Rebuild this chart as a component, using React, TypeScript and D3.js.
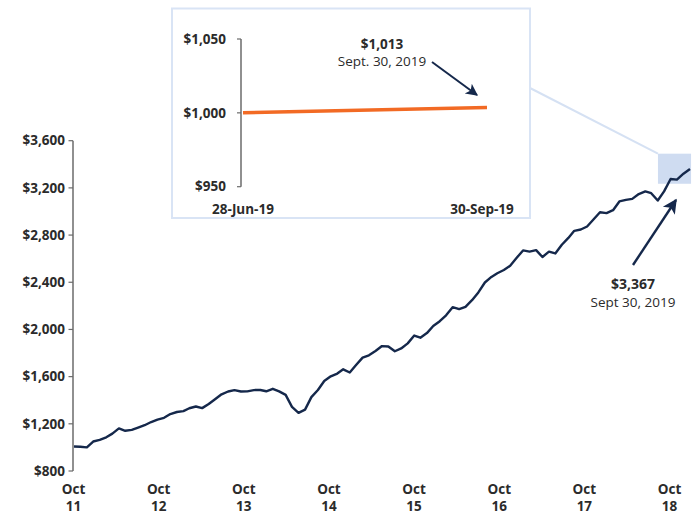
import React from "react";
import * as d3 from "d3";

// growth of $1,000, month ends Sep 2011 .. Sep 2019
const startMonth = new Date(2011, 8, 30);
const growthValues = [
  1008, 1006, 1000, 1050, 1064, 1086, 1117, 1161, 1141, 1149, 1168, 1188,
  1215, 1236, 1251, 1283, 1300, 1308, 1332, 1347, 1333, 1368, 1408, 1450,
  1474, 1486, 1474, 1475, 1486, 1487, 1476, 1497, 1475, 1445, 1344, 1293,
  1320, 1426, 1487, 1563, 1603, 1626, 1662, 1635, 1698, 1761, 1781, 1817,
  1859, 1856, 1815, 1839, 1882, 1948, 1930, 1969, 2029, 2070, 2120, 2189,
  2172, 2192, 2248, 2314, 2398, 2445, 2476, 2504, 2540, 2607, 2670, 2660,
  2672, 2614, 2660, 2644, 2718, 2776, 2836, 2847, 2873, 2934, 2993, 2986,
  3011, 3085, 3098, 3107, 3148, 3170, 3155, 3093, 3170, 3275, 3270, 3320,
  3360,
];
const yTicks = [800, 1200, 1600, 2000, 2400, 2800, 3200, 3600];
const xTickLabels = ["11", "12", "13", "14", "15", "16", "17", "18"];

// the zoomed quarter
const insetDates = [new Date(2019, 5, 28), new Date(2019, 8, 30)];
const insetValues = [1000, 1003.7];
const insetTicks = [950, 1000, 1050];
const insetDateLabels = ["28-Jun-19", "30-Sep-19"];

const highlightDates = [new Date(2019, 4, 1), new Date(2019, 9, 5)];
const highlightValues = [3235, 3490];

const NAVY = "#15284b";
const ORANGE = "#f26a24";
const TEXT = "#2b2b2b";
const FONT = "'Open Sans', 'Noto Sans', sans-serif";

const fmt = (v: number) => "$" + d3.format(",")(v);

export default function App() {
  const width = 695;
  const height = 516;

  const dates = growthValues.map((_, i) => d3.timeMonth.offset(startMonth, i));
  const series = dates.map((d, i) => ({ date: d, value: growthValues[i] }));

  const x = d3
    .scaleTime()
    .domain(d3.extent(dates) as [Date, Date])
    .range([74, 690]);
  const y = d3.scaleLinear().domain([800, 3600]).range([471, 140.7]);
  const xLabel = d3.scalePoint().domain(xTickLabels).range([73.5, 669.5]);

  const line = d3
    .line<{ date: Date; value: number }>()
    .x((d) => x(d.date))
    .y((d) => y(d.value));

  // inset scales
  const ix = d3.scaleTime().domain(insetDates).range([243, 487]);
  const iy = d3.scaleLinear().domain([950, 1050]).range([186.7, 39]);
  const insetLine = d3
    .line<number>()
    .x((_, i) => ix(insetDates[i]))
    .y((d) => iy(d));

  const hx0 = x(highlightDates[0]);
  const hx1 = x(highlightDates[1]);
  const hy0 = y(highlightValues[1]);
  const hy1 = y(highlightValues[0]);

  return (
    <svg
      width={width}
      height={height}
      style={{ position: "absolute", left: 0, top: 0, display: "block", background: "#fff" }}
      fontFamily={FONT}
    >
      <defs>
        <marker
          id="headBig"
          viewBox="0 0 10 10"
          refX="9"
          refY="5"
          markerWidth="7"
          markerHeight="6"
          orient="auto"
          markerUnits="strokeWidth"
        >
          <path d="M0,0 L10,5 L0,10 L2.5,5 Z" fill={NAVY} />
        </marker>
        <marker
          id="headSmall"
          viewBox="0 0 10 10"
          refX="9"
          refY="5"
          markerWidth="7"
          markerHeight="6"
          orient="auto"
          markerUnits="strokeWidth"
        >
          <path d="M0,0 L10,5 L0,10 L2.5,5 Z" fill={NAVY} />
        </marker>
      </defs>

      {/* connector from inset to highlight */}
      <line x1={530} y1={88} x2={hx0} y2={hy0} stroke="#d5e1f3" strokeWidth={2} />
      <rect x={hx0} y={hy0} width={hx1 - hx0} height={hy1 - hy0} fill="#cfdcf1" />

      {/* y axis */}
      <g>
        <line x1={73} x2={73} y1={y(800)} y2={y(3600)} stroke="#6b6b6b" strokeWidth={1.5} />
        {yTicks.map((t) => (
          <g key={t} transform={`translate(0,${y(t)})`}>
            <line x1={68.5} x2={73} stroke="#6b6b6b" strokeWidth={1.2} />
            <text x={65} dy="0.35em" textAnchor="end" fontSize={13.5} fontWeight="bold" fill={TEXT}>
              {fmt(t)}
            </text>
          </g>
        ))}
      </g>

      {/* x labels */}
      {xTickLabels.map((l) => (
        <g key={l} transform={`translate(${xLabel(l)},0)`}>
          <text y={494} textAnchor="middle" fontSize={13.5} fontWeight="bold" fill={TEXT}>
            Oct
          </text>
          <text y={510.5} textAnchor="middle" fontSize={13.5} fontWeight="bold" fill={TEXT}>
            {l}
          </text>
        </g>
      ))}

      <path d={line(series) ?? ""} fill="none" stroke={NAVY} strokeWidth={2.4} strokeLinejoin="round" />

      {/* main annotation */}
      <line
        x1={633}
        y1={265}
        x2={676}
        y2={200}
        stroke={NAVY}
        strokeWidth={2.4}
        markerEnd="url(#headBig)"
      />
      <text x={633} y={288.5} textAnchor="middle" fontSize={14} fontWeight="bold" fill={TEXT}>
        $3,367
      </text>
      <text x={633} y={306.5} textAnchor="middle" fontSize={13.5} fill={TEXT}>
        Sept 30, 2019
      </text>

      {/* inset */}
      <rect x={172} y={8.5} width={358} height={209.5} fill="#fff" stroke="#d9e4f5" strokeWidth={2} />
      <line x1={241} x2={241} y1={iy(950)} y2={iy(1050)} stroke="#6b6b6b" strokeWidth={1.5} />
      {insetTicks.map((t) => (
        <g key={t} transform={`translate(0,${iy(t)})`}>
          <line x1={237} x2={241} stroke="#6b6b6b" strokeWidth={1.2} />
          <text x={226} dy="0.35em" textAnchor="end" fontSize={13.5} fontWeight="bold" fill={TEXT}>
            {fmt(t)}
          </text>
        </g>
      ))}
      {insetDateLabels.map((l, i) => (
        <text
          key={l}
          x={ix(insetDates[i]) - i * 5}
          y={214}
          textAnchor="middle"
          fontSize={13.5}
          fontWeight="bold"
          fill={TEXT}
        >
          {l}
        </text>
      ))}
      <path d={insetLine(insetValues) ?? ""} fill="none" stroke={ORANGE} strokeWidth={3.5} />
      <text x={382} y={48.5} textAnchor="middle" fontSize={13.5} fontWeight="bold" fill={TEXT}>
        $1,013
      </text>
      <text x={382} y={66} textAnchor="middle" fontSize={13.5} fill={TEXT}>
        Sept. 30, 2019
      </text>
      <line
        x1={432}
        y1={62}
        x2={477}
        y2={95}
        stroke={NAVY}
        strokeWidth={2}
        markerEnd="url(#headSmall)"
      />
    </svg>
  );
}
